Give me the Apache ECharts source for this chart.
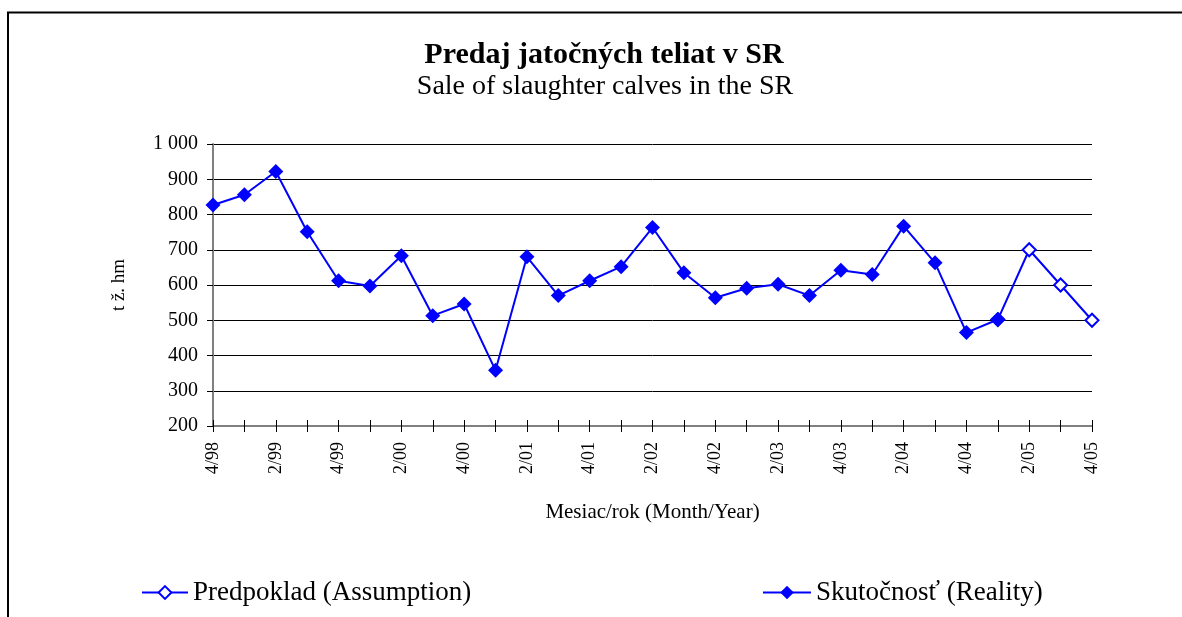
<!DOCTYPE html>
<html>
<head>
<meta charset="utf-8">
<title>Predaj jatočných teliat v SR</title>
<script src="https://cdn.jsdelivr.net/npm/echarts@6/dist/echarts.min.js"></script>
<style>
  html, body {
    margin: 0;
    padding: 0;
    background: #fff;
  }
  #chart {
    width: 1182px;
    height: 617px;
  }
</style>
</head>
<body>
<div id="chart"></div>
<script>
// quarter/year, Q4 1998 .. Q4 2005
const quarters = [
  '4/98', '1/99', '2/99', '3/99', '4/99', '1/00', '2/00', '3/00', '4/00',
  '1/01', '2/01', '3/01', '4/01', '1/02', '2/02', '3/02', '4/02',
  '1/03', '2/03', '3/03', '4/03', '1/04', '2/04', '3/04', '4/04',
  '1/05', '2/05', '3/05', '4/05'
]

// Skutočnosť (Reality), t ž. hm
const reality = [
  827, 856, 922, 751, 612, 597, 683, 513, 546,
  358, 680, 570, 612, 652, 763, 635, 564,
  591, 602, 570, 642, 630, 767, 663, 465,
  502, null, null, null
]

// Predpoklad (Assumption), joins on from the last real quarter
const assumption = [
  null, null, null, null, null, null, null, null, null,
  null, null, null, null, null, null, null, null,
  null, null, null, null, null, null, null, null,
  502, 700, 600, 500
]

const yTicks = { min: 200, max: 1000, step: 100 }

const titleText = 'Predaj jatočných teliat v SR'
const subtitleText = 'Sale of slaughter calves in the SR'

const font = 'Liberation Serif'
const blue = '#0000ff'

const chart = echarts.init(document.getElementById('chart'))

const formatThousands = (v) => {
  const s = String(v)
  return s.length > 3 ? s.slice(0, s.length - 3) + ' ' + s.slice(-3) : s
}

const option = {
  animation: false,
  backgroundColor: '#fff',
  graphic: [
    {
      type: 'rect',
      silent: true,
      shape: { x: 8, y: 12.5, width: 1400, height: 800 },
      style: { fill: 'none', stroke: '#000', lineWidth: 2 }
    },
    {
      type: 'text',
      silent: true,
      x: 604,
      y: 55,
      style: {
        text: titleText,
        font: 'bold 30px "Liberation Serif"',
        fill: '#000',
        align: 'center',
        verticalAlign: 'middle'
      }
    },
    {
      type: 'text',
      silent: true,
      x: 605,
      y: 87,
      style: {
        text: subtitleText,
        font: '28px "Liberation Serif"',
        fill: '#000',
        align: 'center',
        verticalAlign: 'middle'
      }
    }
  ],
  legend: [
    {
      data: ['Predpoklad (Assumption)'],
      left: 141,
      top: 579,
      padding: 0,
      itemWidth: 46,
      itemHeight: 16,
      textStyle: { fontFamily: font, fontSize: 27, color: '#000' }
    },
    {
      data: ['Skutočnosť (Reality)'],
      left: 762,
      top: 579,
      padding: 0,
      itemWidth: 48,
      itemHeight: 17,
      textStyle: { fontFamily: font, fontSize: 27, color: '#000' }
    }
  ],
  grid: {
    left: 213,
    right: 90,
    top: 144,
    bottom: 191,
    containLabel: false
  },
  xAxis: [
    {
      type: 'category',
      data: quarters,
      boundaryGap: false,
      name: 'Mesiac/rok (Month/Year)',
      nameLocation: 'middle',
      nameGap: 76,
      nameTextStyle: { fontFamily: font, fontSize: 21, color: '#000' },
      axisLine: { lineStyle: { color: '#808080', width: 2 } },
      axisTick: { show: true, interval: 0, length: 6, lineStyle: { color: '#000' } },
      axisLabel: {
        interval: 1,
        rotate: 90,
        margin: 16,
        fontFamily: font,
        fontSize: 18,
        color: '#000'
      },
      splitLine: { show: false }
    },
    {
      // inner half of the crossing tick marks
      type: 'category',
      data: quarters,
      boundaryGap: false,
      position: 'bottom',
      offset: 0,
      axisLine: { show: false },
      axisTick: { show: true, inside: true, interval: 0, length: 6, lineStyle: { color: '#000' } },
      axisLabel: { show: false },
      splitLine: { show: false }
    }
  ],
  yAxis: {
    type: 'value',
    min: yTicks.min,
    max: yTicks.max,
    interval: yTicks.step,
    name: 't ž. hm',
    nameLocation: 'middle',
    nameGap: 84,
    nameTextStyle: { fontFamily: font, fontSize: 19, color: '#000' },
    axisLine: { show: true, lineStyle: { color: '#808080', width: 2 } },
    axisTick: { show: true, length: 6, lineStyle: { color: '#000' } },
    axisLabel: {
      margin: 15,
      fontFamily: font,
      fontSize: 20,
      color: '#000',
      formatter: formatThousands
    },
    splitLine: { show: true, lineStyle: { color: '#000', width: 1 } }
  },
  series: [
    {
      name: 'Predpoklad (Assumption)',
      type: 'line',
      data: assumption,
      symbol: 'emptyDiamond',
      symbolSize: 13,
      showAllSymbol: true,
      z: 2,
      lineStyle: { color: blue, width: 2 },
      itemStyle: { color: blue, borderWidth: 2 }
    },
    {
      name: 'Skutočnosť (Reality)',
      type: 'line',
      data: reality,
      symbol: 'diamond',
      symbolSize: 15,
      showAllSymbol: true,
      z: 3,
      lineStyle: { color: blue, width: 2 },
      itemStyle: { color: blue }
    }
  ]
}

chart.setOption(option)

window.addEventListener('resize', () => {
  chart.resize()
})
</script>
</body>
</html>
